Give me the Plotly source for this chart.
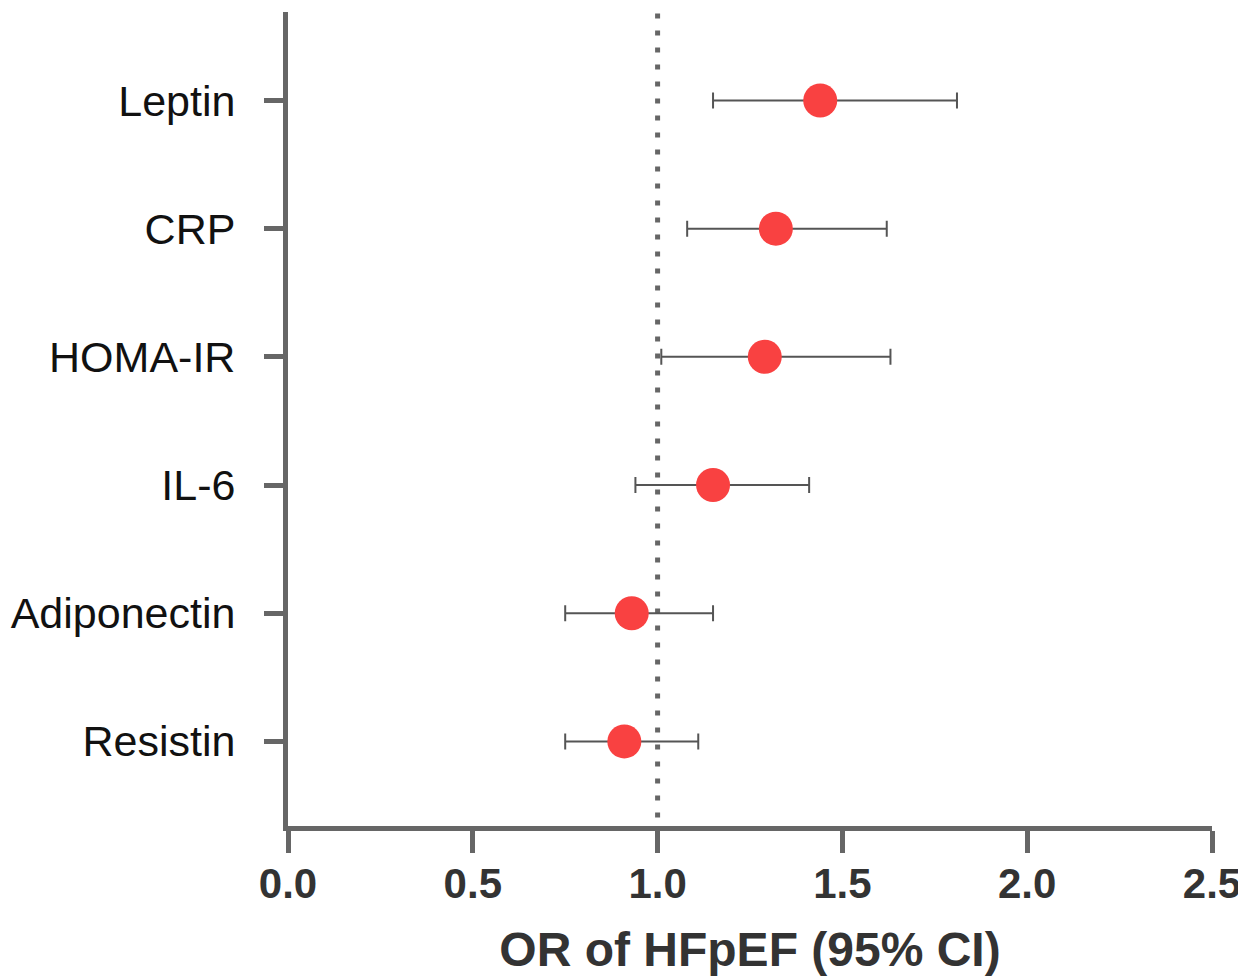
import plotly.graph_objects as go

biomarkers = ["Leptin", "CRP", "HOMA-IR", "IL-6", "Adiponectin", "Resistin"]
odds_ratio = [1.44, 1.32, 1.29, 1.15, 0.93, 0.91]
ci_low = [1.15, 1.08, 1.01, 0.94, 0.75, 0.75]
ci_high = [1.81, 1.62, 1.63, 1.41, 1.15, 1.11]
x_ticks = [0.0, 0.5, 1.0, 1.5, 2.0, 2.5]
x_tick_text = ["0.0", "0.5", "1.0", "1.5", "2.0", "2.5"]
reference_or = 1.0

err_plus = [h - o for h, o in zip(ci_high, odds_ratio)]
err_minus = [o - l for o, l in zip(odds_ratio, ci_low)]

fig = go.Figure()
fig.add_trace(go.Scatter(
    x=odds_ratio, y=biomarkers, mode="markers",
    marker=dict(size=34, color="#F94141", line=dict(width=0)),
    error_x=dict(type="data", symmetric=False, array=err_plus, arrayminus=err_minus,
                 color="#555555", thickness=2, width=8),
    showlegend=False,
))

fig.add_shape(type="line", x0=reference_or, x1=reference_or, xref="x",
              y0=0.0105, y1=0.999, yref="paper",
              line=dict(color="#666666", width=5, dash="5px,12px"), layer="below")

fam = "Liberation Sans, Arial, sans-serif"
fig.update_layout(
    width=1238, height=971,
    margin=dict(l=280, r=34, t=4, b=153),
    plot_bgcolor="white", paper_bgcolor="white",
    xaxis=dict(range=[0, 2.5], tickvals=x_ticks, ticktext=x_tick_text,
               automargin=False,
               showline=True, linecolor="#666666", linewidth=5,
               ticks="outside", ticklen=22, tickwidth=5, tickcolor="#666666",
               ticklabelstandoff=-5,
               showgrid=False, zeroline=False,
               tickfont=dict(family=fam, size=42, color="#333333", weight="bold"),
               title=dict(text="<b>OR of HFpEF (95% CI)</b>", standoff=27,
                          font=dict(family=fam, size=48, color="#333333"))),
    yaxis=dict(type="category", categoryorder="array",
               categoryarray=list(reversed(biomarkers)),
               range=[-0.66, 5.69], automargin=False,
               showline=True, linecolor="#666666", linewidth=5,
               ticks="outside", ticklen=19, tickwidth=5, tickcolor="#666666",
               ticklabelstandoff=20,
               showgrid=False, zeroline=False,
               tickfont=dict(family=fam, size=43, color="#111111")),
)

fig.write_html("out.html")
